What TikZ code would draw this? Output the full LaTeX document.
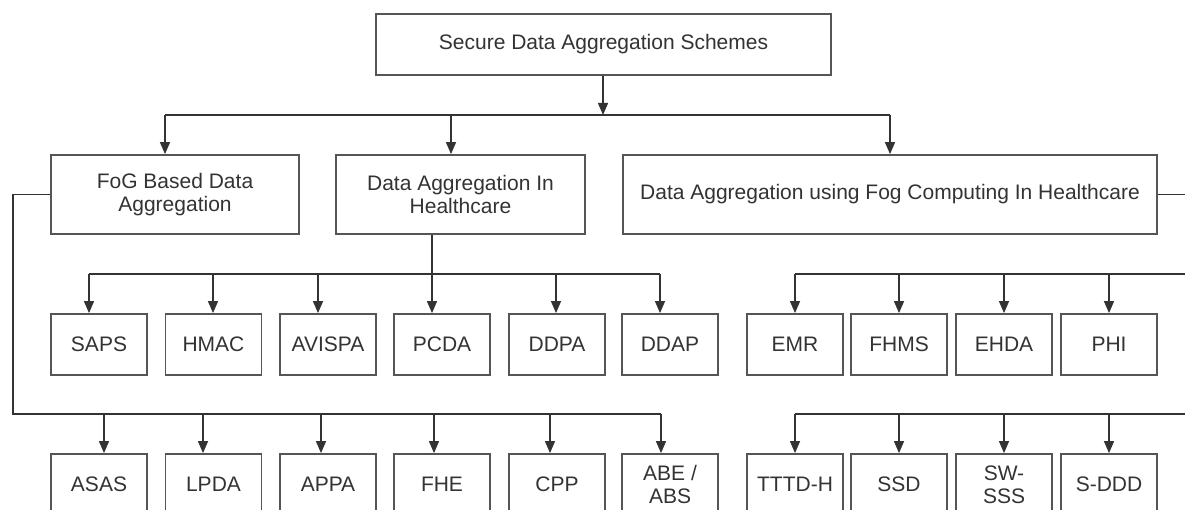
\documentclass[tikz,border=0pt]{standalone}
\usepackage{fontspec}
\setmainfont{Liberation Sans}
\usetikzlibrary{arrows.meta,calc}
\definecolor{ink}{HTML}{333333}
\definecolor{frame}{HTML}{555555}
\begin{document}
\begin{tikzpicture}[x=1pt,y=-1pt,
  box/.style={draw=frame,line width=1.8pt,fill=white,text=ink,inner sep=0pt,
    align=center,font=\fontsize{21}{23}\selectfont},
  leaf/.style={box,minimum width=96pt,minimum height=61pt},
  link/.style={draw=ink,line width=1.4pt},
  arr/.style={link,-{Triangle[length=12pt,width=10pt]}}]

\useasboundingbox (0,0) rectangle (1185,510);
\clip (0,0) rectangle (1185,510);

% bus levels and outer rails
\coordinate (busA) at (0,115);
\coordinate (busB) at (0,274);
\coordinate (busC) at (0,414);
\coordinate (lrail) at (13,0);
\coordinate (rrail) at (1195,0);

% root and the three families
\node[box,minimum width=455pt,minimum height=61pt] (root) at (603.5,44.5) {Secure Data Aggregation Schemes};
\node[box,minimum width=248pt,minimum height=79pt] (fog) at (175,194.5) {FoG Based Data\\Aggregation};
\node[box,minimum width=249pt,minimum height=79pt] (dah) at (460.5,194.5) {Data Aggregation In\\Healthcare};
\node[box,minimum width=534pt,minimum height=79pt] (dafc) at (890,194.5) {Data Aggregation using Fog Computing In Healthcare};

% healthcare schemes
\node[leaf] (saps)   at (99,344.5)   {SAPS};
\node[leaf] (hmac)   at (213.5,344.5){HMAC};
\node[leaf] (avispa) at (328,344.5)  {AVISPA};
\node[leaf] (pcda)   at (442,344.5)  {PCDA};
\node[leaf] (ddpa)   at (557,344.5)  {DDPA};
\node[leaf] (ddap)   at (670,344.5)  {DDAP};

% fog based schemes
\node[leaf] (asas) at (99,484.5)   {ASAS};
\node[leaf] (lpda) at (213.5,484.5){LPDA};
\node[leaf] (appa) at (328,484.5)  {APPA};
\node[leaf] (fhe)  at (442,484.5)  {FHE};
\node[leaf] (cpp)  at (557,484.5)  {CPP};
\node[leaf] (abe)  at (670,484.5)  {ABE /\\ABS};

% fog computing in healthcare schemes
\node[leaf] (emr)  at (795,344.5)  {EMR};
\node[leaf] (fhms) at (899,344.5)  {FHMS};
\node[leaf] (ehda) at (1004,344.5) {EHDA};
\node[leaf] (phi)  at (1109,344.5) {PHI};
\node[leaf] (tttd) at (795,484.5)  {TTTD-H};
\node[leaf] (ssd)  at (899,484.5)  {SSD};
\node[leaf] (swsss) at (1004,484.5){SW-\\SSS};
\node[leaf] (sddd) at (1109,484.5) {S-DDD};

% root to families
\draw[arr] ([xshift=-0.5pt]root.south) -- ([xshift=-0.5pt]root.south |- busA);
\draw[link] ([xshift=-10pt]fog.north |- busA) -- (dafc.north |- busA);
\draw[arr] ([xshift=-10pt]fog.north |- busA) -- ([xshift=-10pt]fog.north);
\draw[arr] ([xshift=-9.5pt]dah.north |- busA) -- ([xshift=-9.5pt]dah.north);
\draw[arr] (dafc.north |- busA) -- (dafc.north);

% healthcare family
\draw[link] ([xshift=-28.5pt]dah.south) -- ([xshift=-28.5pt]dah.south |- busB);
\draw[link] ([xshift=-10pt]saps.north |- busB) -- ([xshift=-10pt]ddap.north |- busB);
\draw[arr] ([xshift=-10pt]saps.north |- busB) -- ([xshift=-10pt]saps.north);
\draw[arr] ([xshift=-0.5pt]hmac.north |- busB) -- ([xshift=-0.5pt]hmac.north);
\draw[arr] ([xshift=-10pt]avispa.north |- busB) -- ([xshift=-10pt]avispa.north);
\draw[arr] ([xshift=-10pt]pcda.north |- busB) -- ([xshift=-10pt]pcda.north);
\draw[arr] ([xshift=-1pt]ddpa.north |- busB) -- ([xshift=-1pt]ddpa.north);
\draw[arr] ([xshift=-10pt]ddap.north |- busB) -- ([xshift=-10pt]ddap.north);

% fog based family
\draw[link] (fog.west) -| (lrail |- busC) -- ([xshift=-9pt]abe.north |- busC);
\draw[arr] ([xshift=5pt]asas.north |- busC) -- ([xshift=5pt]asas.north);
\draw[arr] ([xshift=-10.5pt]lpda.north |- busC) -- ([xshift=-10.5pt]lpda.north);
\draw[arr] ([xshift=-7pt]appa.north |- busC) -- ([xshift=-7pt]appa.north);
\draw[arr] ([xshift=-8pt]fhe.north |- busC) -- ([xshift=-8pt]fhe.north);
\draw[arr] ([xshift=-7pt]cpp.north |- busC) -- ([xshift=-7pt]cpp.north);
\draw[arr] ([xshift=-9pt]abe.north |- busC) -- ([xshift=-9pt]abe.north);

% fog computing in healthcare family
\draw[link] (dafc.east) -| (rrail |- busC);
\draw[link] (emr.north |- busB) -- (rrail |- busB);
\draw[link] (tttd.north |- busC) -- (rrail |- busC);
\foreach \n in {emr,fhms,ehda,phi}
  \draw[arr] (\n.north |- busB) -- (\n.north);
\foreach \n in {tttd,ssd,swsss,sddd}
  \draw[arr] (\n.north |- busC) -- (\n.north);
\end{tikzpicture}
\end{document}
